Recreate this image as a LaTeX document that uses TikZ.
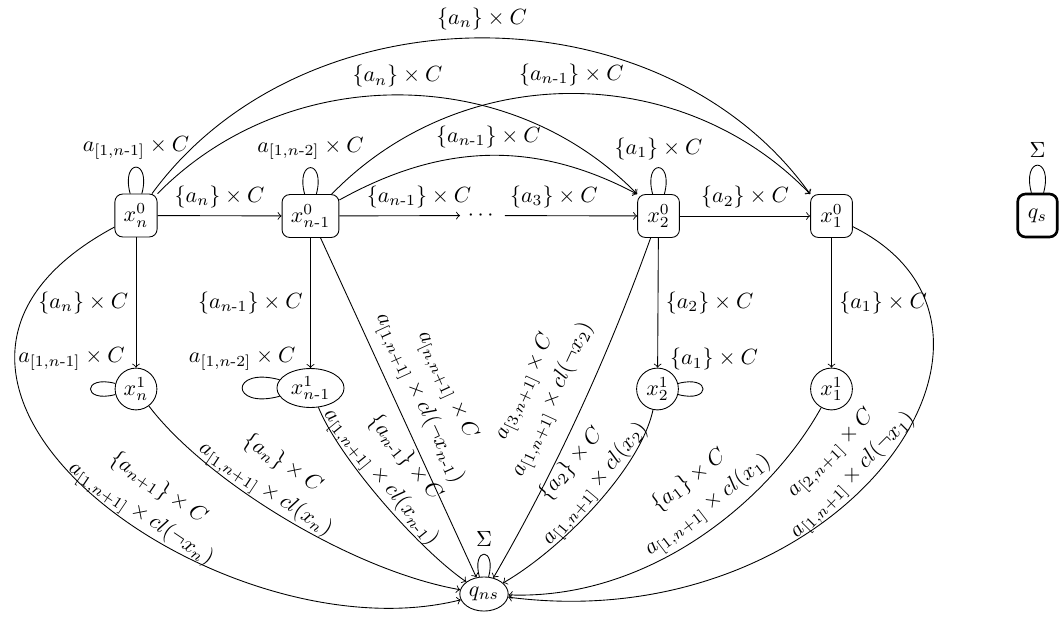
\documentclass[tikz,border=0pt]{standalone}
\usepackage{amsmath}
\usetikzlibrary{shapes.geometric}
\newcommand{\hy}{\text{-}}
\begin{document}
\begin{tikzpicture}[x=0.4545pt,y=0.4545pt,
  stbox/.style={draw, rectangle, rounded corners=3.5pt, inner sep=4pt, minimum width=19pt, minimum height=19.5pt},
  stell/.style={draw, ellipse, inner sep=0pt, minimum width=19pt, minimum height=19pt},
  twol/.style={sloped, above, align=center, inner sep=0.5pt},
  every loop/.style={->}
]
\useasboundingbox (0,0) rectangle (1059,-624);
% states
\node[stbox] (xn0) at (136,-215.5) {$x_n^0$};
\node[stbox] (xm0) at (310.5,-216) {$x_{n\hy1}^0$};
\node (dots) at (482.5,-215.5) {$\cdots$};
\node[stbox] (x20) at (658.5,-216) {$x_2^0$};
\node[stbox] (x10) at (831.5,-216) {$x_1^0$};
\node[stell] (xn1) at (136,-389) {$x_n^1$};
\node[stell, minimum width=30.5pt, minimum height=17.7pt] (xm1) at (310.5,-388) {$x_{n\hy1}^1$};
\node[stell] (x21) at (657.5,-389) {$x_2^1$};
\node[stell] (x11) at (831.5,-389) {$x_1^1$};
\node[stell, minimum width=22pt, minimum height=15.5pt] (qns) at (484,-594) {$q_{ns}$};
\node[stbox, line width=1.2pt, minimum width=18pt] (qs) at (1037.5,-215.5) {$q_s$};

% horizontal chain
\draw[->] (xn0) -- node[above] {$\{a_n\}\times C$} (xm0);
\draw[->] (xm0) -- node[above, pos=0.66] {$\{a_{n\hy1}\}\times C$} (dots);
\draw[->] (dots) -- node[above, pos=0.37] {$\{a_3\}\times C$} (x20);
\draw[->] (x20) -- node[above] {$\{a_2\}\times C$} (x10);

% vertical edges
\draw[->] (xn0) -- node[left] {$\{a_n\}\times C$} (xn1);
\draw[->] (xm0) -- node[left] {$\{a_{n\hy1}\}\times C$} (xm1);
\draw[->] (x20) -- node[right] {$\{a_2\}\times C$} (x21);
\draw[->] (x10) -- node[right] {$\{a_1\}\times C$} (x11);

% top arcs
\draw[->] (xn0) .. controls (304,14) and (661,14) .. (x10.north west) node[midway, above] {$\{a_n\}\times C$};
\draw[->] (xn0) .. controls (287,-62) and (508,-62) .. (x20.north west) node[midway, above] {$\{a_n\}\times C$};
\draw[->] (xm0) .. controls (462,-60) and (681,-60) .. (x10.north west) node[midway, above] {$\{a_{n\hy1}\}\times C$};
\draw[->] (xm0) .. controls (442,-143) and (535,-140) .. (x20.north west) node[midway, above] {$\{a_{n\hy1}\}\times C$};

% loops
\draw (xn0) to[loop above] node[above] {$a_{[1,n\hy1]}\times C$} (xn0);
\draw (xm0) to[loop above] node[above] {$a_{[1,n\hy2]}\times C$} (xm0);
\draw (x20) to[loop above] node[above] {$\{a_1\}\times C$} (x20);
\draw (xn1) to[loop left] node[above, xshift=-8.6pt, yshift=5pt] {$a_{[1,n\hy1]}\times C$} (xn1);
\draw (xm1) to[loop left] node[above, yshift=4.5pt] {$a_{[1,n\hy2]}\times C$} (xm1);
\draw (x21) to[loop right] node[above, xshift=5pt, yshift=5pt] {$\{a_1\}\times C$} (x21);
\draw (qns) to[loop above] node[above] {$\Sigma$} (qns);
\draw (qs) to[loop above] node[above] {$\Sigma$} (qs);

% edges into q_ns
\draw[->] (xn0) .. controls (-170,-380) and (220,-660) .. (qns)
  node[twol, pos=0.57] {$\{a_{n+1}\}\times C$\\[2pt]$a_{[1,n+1]}\times cl(\neg x_n)$};
\draw[->] (xn1) .. controls (205,-480) and (350,-570) .. (qns)
  node[twol, pos=0.42] {$\{a_n\}\times C$\\[2pt]$a_{[1,n+1]}\times cl(x_n)$};
\draw[->] (xm1) .. controls (340,-460) and (420,-550) .. (qns)
  node[twol, pos=0.42] {$\{a_{n\hy1}\}\times C$\\[2pt]$a_{[1,n+1]}\times cl(x_{n\hy1})$};
\draw[->] (xm0) -- (qns)
  node[twol, pos=0.5, above=4pt] {$a_{[n,n+1]}\times C$\\[2pt]$a_{[1,n+1]}\times cl(\neg x_{n\hy1})$};
\draw[->] (x20) .. controls (608,-356.5) and (556,-469.5) .. (qns)
  node[twol, pos=0.5, above=7pt] {$a_{[3,n+1]}\times C$\\[2pt]$a_{[1,n+1]}\times cl(\neg x_2)$};
\draw[->] (x21) .. controls (640,-470) and (560,-550) .. (qns)
  node[twol, pos=0.43] {$\{a_2\}\times C$\\[2pt]$a_{[1,n+1]}\times cl(x_2)$};
\draw[->] (x11) .. controls (770,-500) and (650,-600) .. (qns)
  node[twol, pos=0.43, above=3pt] {$\{a_1\}\times C$\\[2pt]$a_{[1,n+1]}\times cl(x_1)$};
\draw[->] (x10) .. controls (1060,-330) and (840,-640) .. (qns)
  node[twol, pos=0.54, above=1pt] {$a_{[2,n+1]}\times C$\\[2pt]$a_{[1,n+1]}\times cl(\neg x_1)$};
\end{tikzpicture}
\end{document}
